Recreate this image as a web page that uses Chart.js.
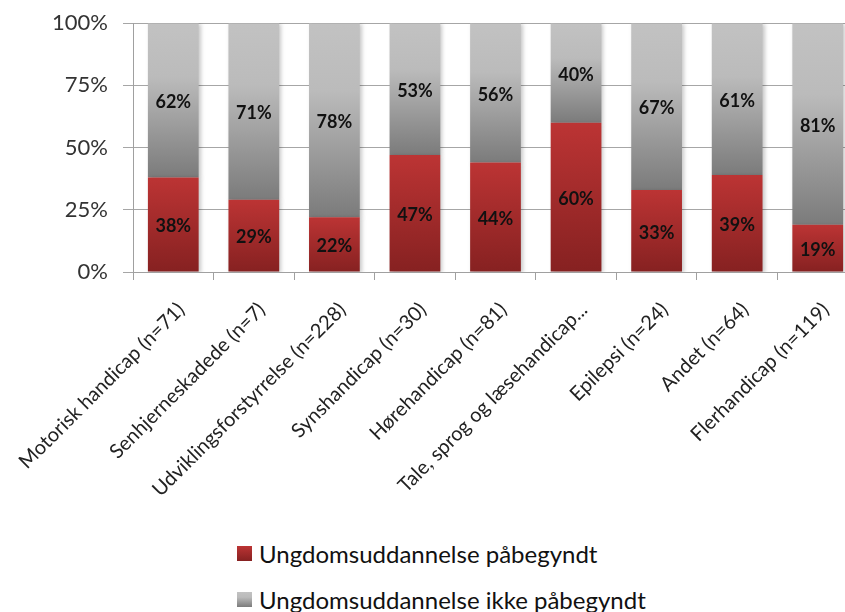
<!DOCTYPE html>
<html>
<head>
<meta charset="utf-8">
<script src="https://cdn.jsdelivr.net/npm/chart.js@4"></script>
<style>
  html, body { margin: 0; padding: 0; background: #fff; overflow: hidden; }
  #wrap { position: relative; width: 845px; height: 612px; overflow: hidden; }
  #chart { position: absolute; left: 0; top: -5px; }
  #legend { position: absolute; left: 237px; top: 535px; font: 24px Lato, sans-serif; color: #111; }
  .item { display: flex; align-items: center; height: 36px; margin-bottom: 10px; }
  .box { width: 15px; height: 15px; margin-right: 7px; }
</style>
</head>
<body>
<div id="wrap">
  <canvas id="chart" width="860" height="500"></canvas>
  <div id="legend"></div>
</div>
<script>
// data
const categories = [
  "Motorisk handicap (n=71)",
  "Senhjerneskadede (n=7)",
  "Udviklingsforstyrrelse (n=228)",
  "Synshandicap (n=30)",
  "Hørehandicap (n=81)",
  "Tale, sprog og læsehandicap...",
  "Epilepsi (n=24)",
  "Andet (n=64)",
  "Flerhandicap (n=119)"
];
const startedValues = [38, 29, 22, 47, 44, 60, 33, 39, 19];
const notStartedValues = [62, 71, 78, 53, 56, 40, 67, 61, 81];
const seriesLabels = ["Ungdomsuddannelse påbegyndt", "Ungdomsuddannelse ikke påbegyndt"];
const yTicks = [0, 25, 50, 75, 100];

// farver (top -> bund)
const redStops = [[0, "#bc3434"], [1, "#862121"]];
const greyStops = [[0, "#c2c2c2"], [0.35, "#bbbbbb"], [1, "#7b7b7b"]];

function gradientFor(stops) {
  return function (c) {
    const chart = c.chart;
    if (!chart.chartArea || c.dataIndex === undefined) return stops[0][1];
    const i = c.dataIndex;
    let lo = 0, hi = startedValues[i];
    if (c.datasetIndex === 1) { lo = startedValues[i]; hi = lo + notStartedValues[i]; }
    const y = chart.scales.y;
    const top = y.getPixelForValue(hi), bot = y.getPixelForValue(lo);
    const g = chart.ctx.createLinearGradient(0, top, 0, bot);
    stops.forEach(s => g.addColorStop(s[0], s[1]));
    return g;
  };
}

// tal midt i hver del af søjlen
const barLabels = {
  id: "barLabels",
  afterDatasetsDraw(chart) {
    const ctx = chart.ctx;
    ctx.save();
    ctx.font = "bold 18px Lato, sans-serif";
    ctx.fillStyle = "#111";
    ctx.textAlign = "center";
    ctx.textBaseline = "middle";
    chart.data.datasets.forEach((ds, d) => {
      chart.getDatasetMeta(d).data.forEach((el, i) => {
        ctx.fillText(ds.data[i] + "%", el.x, (el.y + el.base) / 2 + 2);
      });
    });
    ctx.restore();
  }
};

// lille skygge til højre for søjlerne
const barShadow = {
  id: "barShadow",
  beforeDatasetsDraw(chart) {
    const ctx = chart.ctx;
    ctx.save();
    ctx.shadowColor = "rgba(0,0,0,0.22)";
    ctx.shadowBlur = 4;
    ctx.shadowOffsetX = 2;
    ctx.shadowOffsetY = 1;
  },
  afterDatasetsDraw(chart) {
    chart.ctx.restore();
  }
};

const chart = new Chart(document.getElementById("chart"), {
  type: "bar",
  data: {
    labels: categories,
    datasets: [
      {
        label: seriesLabels[0],
        data: startedValues,
        backgroundColor: gradientFor(redStops),
        borderWidth: 0
      },
      {
        label: seriesLabels[1],
        data: notStartedValues,
        backgroundColor: gradientFor(greyStops),
        borderWidth: 0
      }
    ]
  },
  options: {
    responsive: false,
    animation: false,
    layout: { padding: { top: 19, right: 2, left: 0, bottom: 0 } },
    plugins: { legend: { display: false }, tooltip: { enabled: false } },
    datasets: { bar: { categoryPercentage: 1, barPercentage: 0.63 } },
    scales: {
      x: {
        stacked: true,
        afterFit: s => { s.height = 223; s.paddingLeft = 0; s.paddingRight = 0; },
        grid: { drawOnChartArea: false, tickLength: 8, color: "#a0a0a0" },
        border: { color: "#a0a0a0" },
        ticks: {
          autoSkip: false, minRotation: 45, maxRotation: 45, padding: 18, labelOffset: 8,
          color: "#222", font: { family: "Lato", size: 20 }
        }
      },
      y: {
        stacked: true,
        min: 0, max: 100,
        afterBuildTicks: s => { s.ticks = yTicks.map(v => ({ value: v })); },
        afterFit: s => { s.width = 133; },
        grid: { color: "#a6a6a6", tickLength: 10 },
        border: { color: "#a0a0a0" },
        ticks: {
          padding: 15, color: "#333",
          font: { family: "Lato", size: 22 },
          callback: v => v + "%"
        }
      }
    }
  },
  plugins: [barShadow, barLabels]
});

// forklaring under grafen
const legend = document.getElementById("legend");
[redStops, greyStops].forEach((stops, k) => {
  const row = document.createElement("div");
  row.className = "item";
  const box = document.createElement("span");
  box.className = "box";
  box.style.background = "linear-gradient(" + stops.map(s => s[1] + " " + (s[0] * 100) + "%").join(",") + ")";
  const txt = document.createElement("span");
  txt.textContent = seriesLabels[k];
  row.appendChild(box);
  row.appendChild(txt);
  legend.appendChild(row);
});
</script>
</body>
</html>
